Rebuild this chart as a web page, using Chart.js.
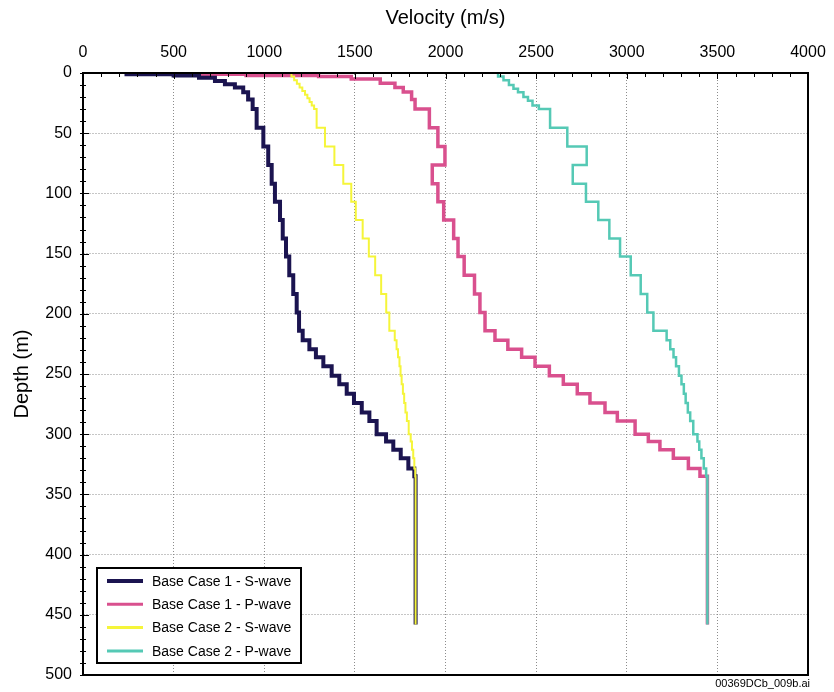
<!DOCTYPE html>
<html>
<head>
<meta charset="utf-8">
<title>Velocity profiles</title>
<script src="https://cdn.jsdelivr.net/npm/chart.js@4.4.1/dist/chart.umd.min.js"></script>
<style>
  html, body { margin: 0; padding: 0; background: #fff; }
  canvas { display: block; }
</style>
</head>
<body>
<canvas id="chart" width="834" height="692"></canvas>
<script>
// layer tops (m) below 30 m are common to all four profiles
const DEEP_TOPS = [30, 45.5, 61, 76.5, 92, 107, 122, 137.5, 152.5, 168, 183.5, 199, 214,
  222, 229.5, 236, 243.5, 251.5, 258.5, 266.5, 274, 282, 289, 300, 306, 313, 320, 328.5, 335];
const PROFILE_BOTTOM = 458;

const S1_TOPS = [0, 1, 2, 4, 6.6, 9.4, 12, 16, 22].concat(DEEP_TOPS);
const S1_VEL = [240, 500, 640, 728, 783, 838, 884, 911, 936,
  958, 995, 1022, 1041, 1059, 1087, 1102, 1120, 1138, 1160, 1179, 1192, 1212,
  1249, 1285, 1326, 1372, 1414, 1455, 1495, 1538, 1580, 1620, 1672, 1712, 1753, 1795, 1828, 1835];

const P1_TOPS = [0, 1, 2, 3, 5, 8.6, 12, 15.8, 22].concat(DEEP_TOPS);
const P1_VEL = [500, 900, 1300, 1480, 1640, 1721, 1767, 1813, 1832,
  1911, 1958, 1997, 1927, 1958, 1990, 2045, 2069, 2103, 2160, 2190, 2218, 2273,
  2344, 2420, 2494, 2573, 2650, 2727, 2797, 2880, 2948, 3046, 3119, 3183, 3257, 3340, 3404, 3445];

const S2_TOPS = [0, 3, 6, 9, 12, 15, 18, 21, 24, 27].concat(DEEP_TOPS);
const S2_VEL = [1150, 1165, 1180, 1195, 1210, 1225, 1238, 1250, 1262, 1275,
  1289, 1335, 1387, 1436, 1480, 1505, 1543, 1577, 1612, 1645, 1673, 1690, 1720,
  1730, 1738, 1746, 1752, 1758, 1765, 1772, 1779, 1787, 1797, 1808, 1815, 1822, 1828, 1833, 1835];

const P2_TOPS = [0, 3, 6, 10, 13, 16, 20, 23, 27].concat(DEEP_TOPS);
const P2_VEL = [2290, 2320, 2350, 2375, 2400, 2430, 2455, 2480, 2515,
  2577, 2672, 2779, 2702, 2775, 2843, 2904, 2963, 3022, 3077, 3113, 3147, 3220,
  3240, 3258, 3272, 3288, 3302, 3315, 3325, 3337, 3350, 3367, 3390, 3400, 3412, 3425, 3438, 3445];

const SERIES_LABELS = ['Base Case 1 - S-wave', 'Base Case 1 - P-wave', 'Base Case 2 - S-wave', 'Base Case 2 - P-wave'];
const SERIES_COLORS = ['#1b1450', '#d9508e', '#f5f53a', '#55c9b5'];
const SERIES_WIDTHS = [4, 3.5, 2, 2.5];
const LEGEND_WIDTHS = [4, 3, 3, 3];

const X_MAX = 4000, X_STEP = 500, X_MINOR = 100;
const Y_MAX = 500, Y_STEP = 50, Y_MINOR = 10;
const FONT = "'Liberation Sans', Arial, sans-serif";

// one point per layer top, plus the base of the last layer; stepped 'after'
// draws the vertical run first, then the jump to the next velocity
function profilePoints(tops, vels) {
    var pts = tops.map((d, i) => ({x: vels[i], y: d}));
    pts.push({x: vels[vels.length - 1], y: PROFILE_BOTTOM});
    return pts;
}

const profiles = [
    profilePoints(S1_TOPS, S1_VEL),
    profilePoints(P1_TOPS, P1_VEL),
    profilePoints(S2_TOPS, S2_VEL),
    profilePoints(P2_TOPS, P2_VEL)
];

// fixed axis boxes, and no extra room for the end tick labels
function fixAxisSize(size) {
    return s => {
        if (s.isHorizontal()) s.height = size; else s.width = size;
        s.paddingLeft = s.paddingRight = s.paddingTop = s.paddingBottom = 0;
    };
}

const profileExtras = {
    id: 'profileExtras',
    afterDatasetsDraw(chart) {
        const ctx = chart.ctx;
        const area = chart.chartArea;
        const x = chart.scales.x, y = chart.scales.y;
        ctx.save();

        // minor ticks on the top and left axes
        ctx.strokeStyle = '#000';
        ctx.lineWidth = 1;
        ctx.beginPath();
        for (let v = 0; v <= X_MAX; v += X_MINOR) {
            const px = Math.round(x.getPixelForValue(v)) + 0.5;
            ctx.moveTo(px, area.top);
            ctx.lineTo(px, area.top + (v % X_STEP === 0 ? 6 : 4));
        }
        for (let d = 0; d <= Y_MAX; d += Y_MINOR) {
            const py = Math.round(y.getPixelForValue(d)) + 0.5;
            ctx.moveTo(area.left - 3, py);
            ctx.lineTo(area.left + (d % Y_STEP === 0 ? 6 : 3), py);
        }
        ctx.stroke();

        // frame
        ctx.lineWidth = 2;
        ctx.strokeRect(area.left, area.top, area.right - area.left, area.bottom - area.top);

        // legend box in the lower left corner of the plot
        const bx = area.left + 14, by = area.bottom - 107, bw = 204, bh = 95;
        ctx.fillStyle = '#fff';
        ctx.fillRect(bx, by, bw, bh);
        ctx.strokeRect(bx, by, bw, bh);
        ctx.font = '14px ' + FONT;
        ctx.textBaseline = 'middle';
        ctx.textAlign = 'left';
        chart.data.datasets.forEach((ds, i) => {
            const ry = by + 13 + i * 23.3;
            ctx.strokeStyle = ds.borderColor;
            ctx.lineWidth = LEGEND_WIDTHS[i];
            ctx.beginPath();
            ctx.moveTo(bx + 10, ry);
            ctx.lineTo(bx + 46, ry);
            ctx.stroke();
            ctx.fillStyle = '#000';
            ctx.fillText(ds.label, bx + 55, ry + 1);
        });

        // drawing reference under the frame
        ctx.font = '11px ' + FONT;
        ctx.textAlign = 'right';
        ctx.fillText('00369DCb_009b.ai', area.right + 2, area.bottom + 9);
        ctx.restore();
    }
};

new Chart(document.getElementById('chart'), {
    type: 'scatter',
    data: {
        datasets: profiles.map((pts, i) => ({
            label: SERIES_LABELS[i],
            data: pts,
            showLine: true,
            stepped: 'after',
            borderColor: SERIES_COLORS[i],
            backgroundColor: SERIES_COLORS[i],
            borderWidth: SERIES_WIDTHS[i],
            pointRadius: 0,
            fill: false,
            // case 2 lines sit over case 1 lines where they overlap
            order: i < 2 ? 1 : 0
        }))
    },
    options: {
        responsive: false,
        animation: false,
        layout: {padding: {left: 0, top: 0, right: 26, bottom: 17}},
        plugins: {
            legend: {display: false},
            tooltip: {enabled: false}
        },
        scales: {
            x: {
                type: 'linear',
                position: 'top',
                min: 0,
                max: X_MAX,
                afterFit: fixAxisSize(73),
                ticks: {stepSize: X_STEP, color: '#000', padding: 11, font: {family: FONT, size: 16},
                        callback: v => String(v)},
                grid: {color: '#8c8c8c', lineWidth: 1, drawTicks: false},
                border: {display: true, color: '#000', width: 2, dash: [1, 2]},
                title: {display: true, text: 'Velocity (m/s)', color: '#000',
                        font: {family: FONT, size: 20}, padding: {top: 6, bottom: 0}}
            },
            y: {
                type: 'linear',
                reverse: true,
                min: 0,
                max: Y_MAX,
                afterFit: fixAxisSize(83),
                ticks: {stepSize: Y_STEP, color: '#000', padding: 11, font: {family: FONT, size: 16},
                        callback: v => String(v)},
                grid: {color: '#8c8c8c', lineWidth: 1, drawTicks: false},
                border: {display: true, color: '#000', width: 1.5, dash: [1, 2]},
                title: {display: true, text: 'Depth (m)', color: '#000',
                        font: {family: FONT, size: 20}, padding: {top: 10, bottom: 0}}
            }
        }
    },
    plugins: [profileExtras]
});
</script>
</body>
</html>
